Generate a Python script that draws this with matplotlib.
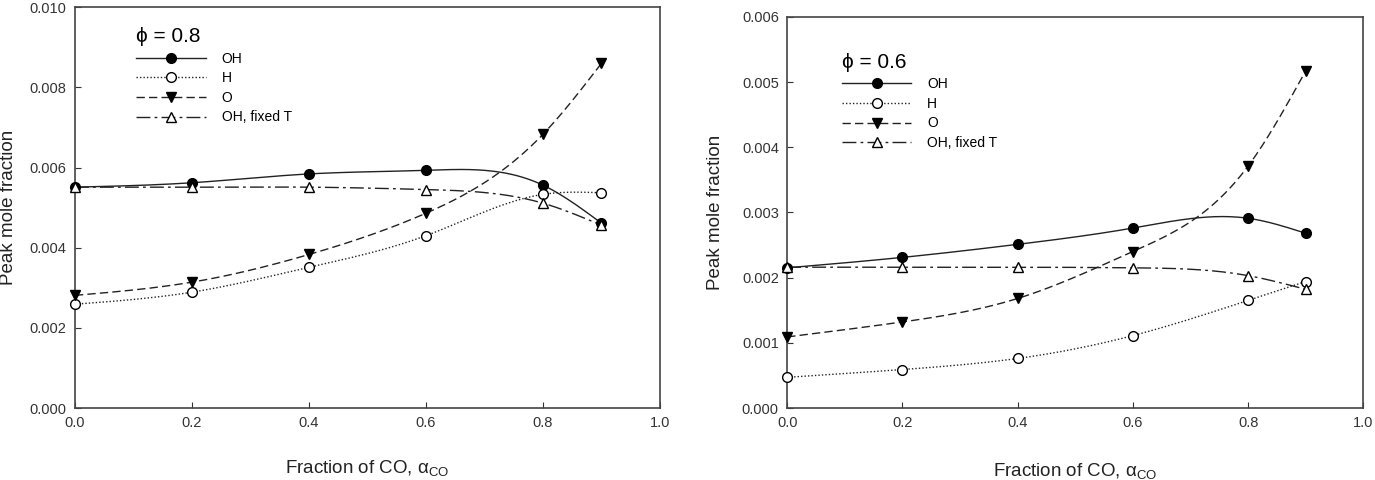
import numpy as np
import matplotlib
matplotlib.use("Agg")
import matplotlib.pyplot as plt

plt.rcParams['font.family'] = ['Liberation Sans', 'DejaVu Sans']
plt.rcParams['mathtext.fontset'] = 'custom'
plt.rcParams['mathtext.rm'] = 'Liberation Sans'
plt.rcParams['mathtext.it'] = 'Liberation Sans'

alpha_co = [0.0, 0.2, 0.4, 0.6, 0.8, 0.9]

# phi = 0.8
oh_08 = [0.00551, 0.00562, 0.00584, 0.00593, 0.00556, 0.00461]
h_08 = [0.00259, 0.00289, 0.00351, 0.00430, 0.00533, 0.00537]
o_08 = [0.00281, 0.00314, 0.00383, 0.00486, 0.00683, 0.00860]
ohT_08 = [0.00551, 0.00551, 0.00551, 0.00545, 0.00511, 0.00456]

# phi = 0.6
oh_06 = [0.00215, 0.00231, 0.00251, 0.00276, 0.00291, 0.00268]
h_06 = [0.00047, 0.00059, 0.00076, 0.00111, 0.00165, 0.00194]
o_06 = [0.00109, 0.00132, 0.00168, 0.00240, 0.00371, 0.00517]
ohT_06 = [0.00216, 0.00216, 0.00216, 0.00215, 0.00203, 0.00182]


def spline(x, y, n=200):
    # natural cubic spline through the points, just for the smooth line
    x = np.asarray(x, float)
    y = np.asarray(y, float)
    k = len(x)
    h = np.diff(x)
    A = np.zeros((k, k))
    b = np.zeros(k)
    A[0, 0] = 1
    A[-1, -1] = 1
    for i in range(1, k - 1):
        A[i, i - 1] = h[i - 1]
        A[i, i] = 2 * (h[i - 1] + h[i])
        A[i, i + 1] = h[i]
        b[i] = 3 * ((y[i + 1] - y[i]) / h[i] - (y[i] - y[i - 1]) / h[i - 1])
    c = np.linalg.solve(A, b)
    xs = np.linspace(x[0], x[-1], n)
    ys = np.zeros_like(xs)
    for j, xv in enumerate(xs):
        i = min(np.searchsorted(x, xv, side='right') - 1, k - 2)
        dx = xv - x[i]
        bb = (y[i + 1] - y[i]) / h[i] - h[i] * (c[i + 1] + 2 * c[i]) / 3
        d = (c[i + 1] - c[i]) / (3 * h[i])
        ys[j] = y[i] + bb * dx + c[i] * dx ** 2 + d * dx ** 3
    return xs, ys


styles = [
    ('OH', '-', 'o', 'black', None),
    ('H', ':', 'o', 'white', (1, 1.5)),
    ('O', '--', 'v', 'black', (6, 3)),
    ('OH, fixed T', '-.', '^', 'white', (10, 3, 2, 3)),
]

fig = plt.figure(figsize=(13.75, 4.8), dpi=100)
ax1 = fig.add_axes([0.0545, 0.15, 0.4255, 0.835])
ax2 = fig.add_axes([0.5725, 0.15, 0.419, 0.815])


def draw(ax, series, title, ymax, yticks, legpos, ylab_x, xlab_y):
    handles = []
    for (name, ls, mk, fc, dash), vals in zip(styles, series):
        xs, ys = spline(alpha_co, vals)
        ln, = ax.plot(xs, ys, color='#222222', lw=1.0, ls=ls)
        if dash:
            ln.set_dashes(dash)
        ax.plot(alpha_co, vals, ls='none', marker=mk, ms=7, mfc=fc,
                mec='black', mew=1.0, clip_on=False, zorder=3)
        h, = ax.plot([], [], color='#222222', lw=1.0, ls=ls, marker=mk,
                     ms=7, mfc=fc, mec='black', mew=1.0, label=name)
        if dash:
            h.set_dashes(dash)
        handles.append(h)
    ax.set_xlim(0, 1.0)
    ax.set_ylim(0, ymax)
    ax.set_xticks(np.arange(0, 1.01, 0.2))
    ax.set_xticklabels(['%.1f' % v for v in np.arange(0, 1.01, 0.2)])
    ax.set_yticks(yticks)
    ax.set_yticklabels(['%.3f' % v for v in yticks])
    ax.tick_params(labelsize=10.5, direction='in', length=4, pad=6,
                   colors='#333333')
    ax.set_xlabel('Fraction of CO, $\\alpha_{\\mathrm{CO}}$', fontsize=13.5,
                  color='#222222')
    ax.set_ylabel('Peak mole fraction', fontsize=13.5, color='#222222')
    ax.yaxis.set_label_coords(ylab_x, 0.5)
    ax.xaxis.set_label_coords(0.5, xlab_y)
    ax.legend(handles=handles, title=title, loc='upper left',
              bbox_to_anchor=legpos, frameon=False, fontsize=10,
              title_fontsize=15, handlelength=5.0, handletextpad=1.15,
              labelspacing=0.4, alignment='left', borderaxespad=0,
              borderpad=0)
    for s in ax.spines.values():
        s.set_linewidth(1.2)
        s.set_color('#444444')


draw(ax1, [oh_08, h_08, o_08, ohT_08], '\u03d5 = 0.8', 0.010,
     np.arange(0, 0.0101, 0.002), (0.105, 0.95), -0.099, -0.125)
draw(ax2, [oh_06, h_06, o_06, ohT_06], '\u03d5 = 0.6', 0.006,
     np.arange(0, 0.00601, 0.001), (0.095, 0.908), -0.11, -0.135)

fig.savefig('out.png', dpi=100)
